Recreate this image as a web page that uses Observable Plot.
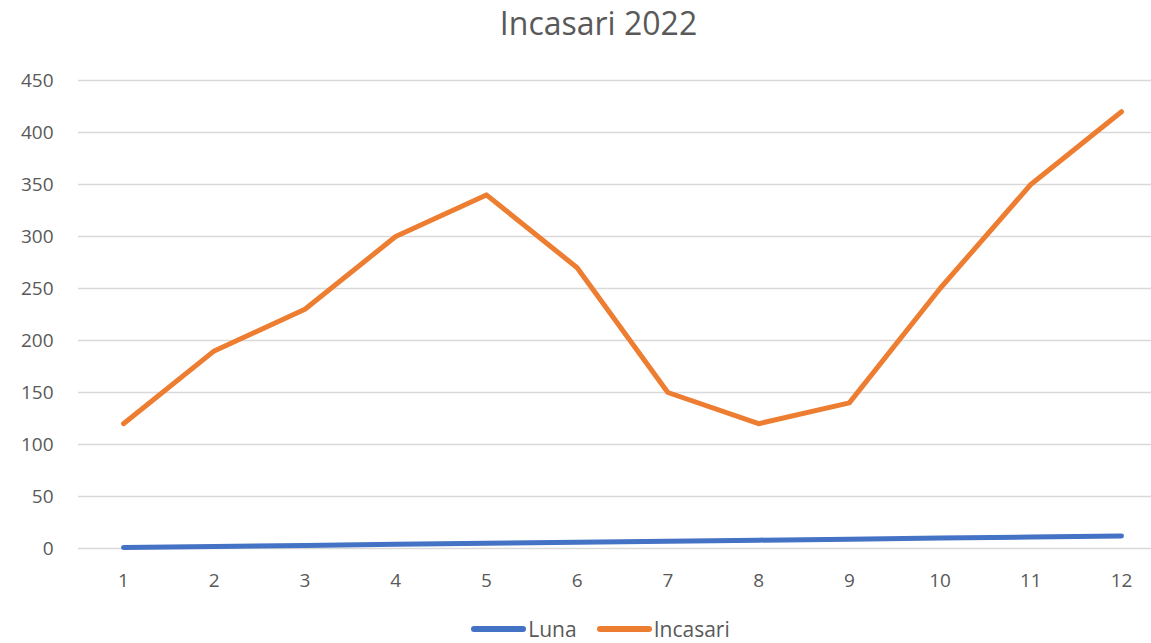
<!DOCTYPE html>
<html>
<head>
<meta charset="utf-8">
<script src="https://cdn.jsdelivr.net/npm/d3@7"></script>
<script src="https://cdn.jsdelivr.net/npm/@observablehq/plot@0.6"></script>
<style>
  html, body { margin: 0; padding: 0; background: #fff; overflow: hidden; }
  body { width: 1151px; height: 643px; font-family: "Open Sans", "Noto Sans", sans-serif; }
  #title { height: 45px; line-height: 46px; text-align: center; font-size: 32px; color: #595959; padding-left: 46px; }
  #chart svg { display: block; }
  #legend { display: flex; justify-content: center; align-items: center; height: 28px; margin-top: 0; font-size: 21px; line-height: 24px; color: #595959; padding-left: 50px; }
  .item { display: flex; align-items: center; margin: 0 10px; }
  .sw { width: 55px; height: 6px; border-radius: 3px; margin-right: 2px; }
</style>
</head>
<body>
<div id="title">Incasari 2022</div>
<div id="chart"></div>
<div id="legend"></div>
<script>
const months = [1, 2, 3, 4, 5, 6, 7, 8, 9, 10, 11, 12];
const luna = [1, 2, 3, 4, 5, 6, 7, 8, 9, 10, 11, 12];
const incasari = [120, 190, 230, 300, 340, 270, 150, 120, 140, 250, 350, 420];
const yTicks = [0, 50, 100, 150, 200, 250, 300, 350, 400, 450];
const seriesNames = ["Luna", "Incasari"];
const colors = ["#4472C4", "#ED7D31"];

const data = [];
months.forEach((m, i) => {
  data.push({month: m, value: luna[i], series: "Luna"});
});
months.forEach((m, i) => {
  data.push({month: m, value: incasari[i], series: "Incasari"});
});

const chart = Plot.plot({
  width: 1151,
  height: 570,
  marginLeft: 78,
  marginRight: 0,
  marginTop: 35,
  marginBottom: 67,
  style: {fontFamily: '"Open Sans", "Noto Sans", sans-serif', fontSize: "19px", color: "#595959", background: "#fff"},
  x: {type: "point", domain: months, range: [123, 1121], padding: 0, round: false},
  y: {domain: [0, 450], ticks: yTicks},
  color: {domain: seriesNames, range: colors},
  marks: [
    Plot.ruleY(yTicks, {stroke: "#d9d9d9", strokeWidth: 1.3}),
    Plot.axisY({ticks: yTicks, tickSize: 0, tickPadding: 25, label: null, fontSize: 19}),
    Plot.axisX({tickSize: 0, tickPadding: 25, label: null, fontSize: 19}),
    Plot.line(data, {x: "month", y: "value", z: "series", stroke: "series", strokeWidth: 5, strokeLinecap: "round", strokeLinejoin: "round"})
  ]
});
document.getElementById("chart").appendChild(chart);

const legend = document.getElementById("legend");
seriesNames.forEach((s, i) => {
  const it = document.createElement("div");
  it.className = "item";
  const sw = document.createElement("div");
  sw.className = "sw";
  sw.style.background = colors[i];
  const t = document.createElement("span");
  t.textContent = s;
  it.appendChild(sw);
  it.appendChild(t);
  legend.appendChild(it);
});
</script>
</body>
</html>
